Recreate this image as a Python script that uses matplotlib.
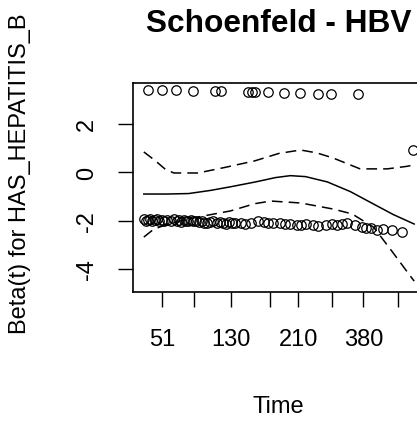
import numpy as np
import matplotlib
matplotlib.use("Agg")
import matplotlib.pyplot as plt

plt.rcParams["font.family"] = ["Liberation Sans", "DejaVu Sans"]

# transformed time axis (0..1), tick positions and labels
tick_pos = [0.069, 0.185, 0.321, 0.465, 0.572, 0.697, 0.812, 0.941]
tick_lab = ["51", "", "130", "", "210", "", "380", ""]

# upper row of residuals
top_x = [0.015, 0.066, 0.118, 0.181, 0.262, 0.284, 0.387, 0.399, 0.410, 0.458,
         0.517, 0.576, 0.646, 0.694, 0.793, 0.996]
top_y = [3.38, 3.38, 3.38, 3.37, 3.36, 3.36, 3.33, 3.30, 3.32, 3.32,
         3.27, 3.27, 3.22, 3.22, 3.24, 0.94]

# lower row of residuals
bot_x = [0.000, 0.007, 0.015, 0.022, 0.030, 0.041, 0.048, 0.055, 0.066, 0.074, 0.085,
         0.100, 0.111, 0.122, 0.129, 0.137, 0.148, 0.155, 0.162, 0.173, 0.181, 0.192,
         0.203, 0.214, 0.221, 0.232, 0.244, 0.255,
         0.269, 0.280, 0.292, 0.303, 0.314, 0.325, 0.336,
         0.358, 0.376, 0.395,
         0.424, 0.443, 0.458, 0.476,
         0.502, 0.524, 0.542, 0.565, 0.583, 0.601,
         0.624, 0.646, 0.675, 0.697, 0.716, 0.734, 0.753,
         0.782, 0.808, 0.823, 0.841, 0.863, 0.886, 0.919, 0.956]
bot_y = [-1.95, -2.0, -1.97, -1.93, -2.02, -1.98, -1.95, -2.03, -1.97, -2.0, -1.96,
         -2.0, -1.95, -2.02, -1.98, -2.05, -1.97, -2.0, -2.03, -1.98, -2.02, -2.0,
         -2.05, -2.02, -2.08, -2.1, -2.05, -2.03,
         -2.08, -2.05, -2.1, -2.12, -2.07, -2.1, -2.08,
         -2.1, -2.12, -2.08,
         -2.02, -2.05, -2.1, -2.08,
         -2.1, -2.15, -2.12, -2.18, -2.2, -2.15,
         -2.2, -2.22, -2.18, -2.15, -2.2, -2.12, -2.1,
         -2.2, -2.28, -2.3, -2.32, -2.4, -2.35, -2.4, -2.45]

# smoothed beta(t) and its band
fit_x = [0.0, 0.085, 0.166, 0.247, 0.321, 0.413, 0.487, 0.542, 0.598, 0.679, 0.764, 0.849, 0.923, 1.0]
fit_y = [-0.9, -0.9, -0.88, -0.75, -0.6, -0.4, -0.22, -0.14, -0.18, -0.4, -0.8, -1.31, -1.75, -2.14]
up_x = [0.0, 0.04, 0.08, 0.111, 0.2, 0.3, 0.41, 0.5, 0.58, 0.64, 0.7, 0.8, 0.9, 0.97, 1.0]
up_y = [0.84, 0.5, 0.12, -0.03, -0.03, 0.2, 0.47, 0.78, 0.92, 0.8, 0.59, 0.14, 0.14, 0.24, 0.3]
lo_x = [0.0, 0.037, 0.1, 0.2, 0.32, 0.41, 0.47, 0.58, 0.7, 0.77, 0.85, 0.92, 0.985, 1.0]
lo_y = [-2.68, -2.35, -2.1, -1.85, -1.6, -1.3, -1.19, -1.27, -1.52, -1.72, -2.27, -3.3, -4.28, -4.5]

W, H = 417, 427
fig = plt.figure(figsize=(W / 100, H / 100), dpi=100)
ax = fig.add_axes([133 / W, 1 - 293 / H, (425 - 133) / W, (293 - 84) / H])

ax.plot(top_x + bot_x, top_y + bot_y, "o", mfc="none", mec="black", ms=6.8, mew=0.9)
ax.plot(fit_x, fit_y, color="black", lw=1.1)
ax.plot(up_x, up_y, color="black", lw=1.1, linestyle=(0, (7, 4)))
ax.plot(lo_x, lo_y, color="black", lw=1.1, linestyle=(0, (7, 4)))

ax.set_xlim(-0.04, 1.04)
ax.set_ylim(-4.95, 3.69)
ax.set_xticks(tick_pos)
ax.set_xticklabels(tick_lab)
ax.set_yticks([-4, -2, 0, 2])
ax.set_yticklabels(["-4", "-2", "0", "2"], rotation=90, va="center")
ax.tick_params(axis="x", length=11, width=1, pad=15, labelsize=17)
ax.tick_params(axis="y", length=11, width=1, pad=14, labelsize=17)
for s in ax.spines.values():
    s.set_linewidth(1.2)

fig.text(279 / W, 1 - 32 / H, "Schoenfeld - HBV", ha="center", va="baseline",
         fontsize=22.8, fontweight="bold")
fig.text(278 / W, 1 - 407 / H, "Time", ha="center", va="center", fontsize=17)
fig.text(20 / W, 1 - 174 / H, "Beta(t) for HAS_HEPATITIS_B", ha="center", va="center",
         rotation=90, fontsize=17)

fig.savefig("out.png", dpi=100)
